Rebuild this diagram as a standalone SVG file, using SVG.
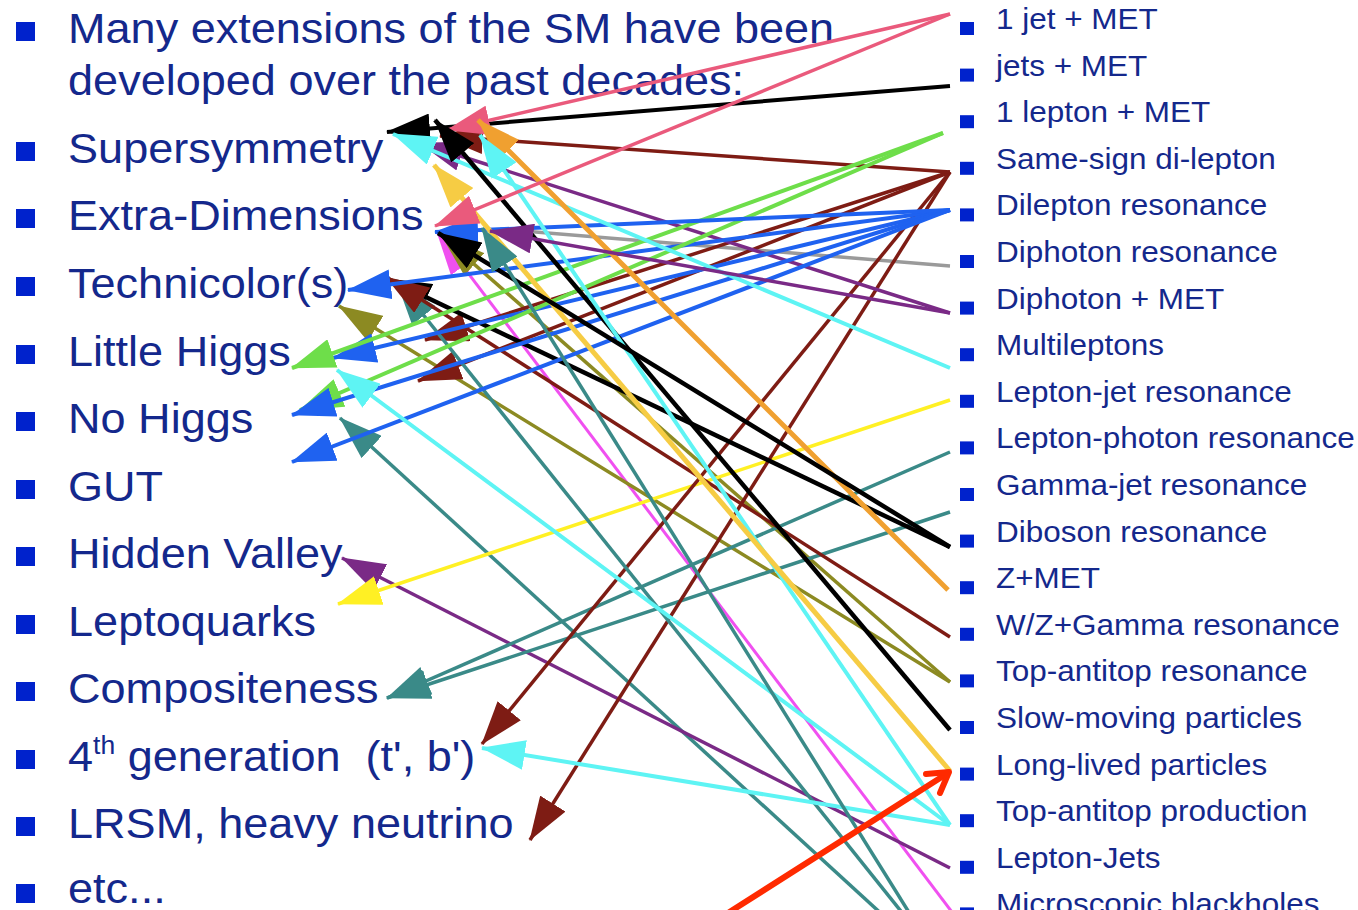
<svg xmlns="http://www.w3.org/2000/svg" width="1358" height="910" viewBox="0 0 1358 910">
<style>
.t{font-family:"Liberation Sans",Arial,sans-serif;fill:#14288c}
.L{font-size:42.5px}
.R{font-size:29.7px}
.b{fill:#0022cc}
.c{fill:none;stroke-linecap:butt}
</style>
<defs>
<marker id="h-pink" markerUnits="userSpaceOnUse" markerWidth="44" markerHeight="30" refX="43" refY="15" orient="auto" viewBox="0 0 44 30"><path d="M0,0L44,15L0,30z" fill="#ea5a7c"/></marker>
<marker id="h-black" markerUnits="userSpaceOnUse" markerWidth="44" markerHeight="30" refX="43" refY="15" orient="auto" viewBox="0 0 44 30"><path d="M0,0L44,15L0,30z" fill="#000"/></marker>
<marker id="h-dred" markerUnits="userSpaceOnUse" markerWidth="44" markerHeight="30" refX="43" refY="15" orient="auto" viewBox="0 0 44 30"><path d="M0,0L44,15L0,30z" fill="#7e1c14"/></marker>
<marker id="h-green" markerUnits="userSpaceOnUse" markerWidth="44" markerHeight="30" refX="43" refY="15" orient="auto" viewBox="0 0 44 30"><path d="M0,0L44,15L0,30z" fill="#6ede4a"/></marker>
<marker id="h-blue" markerUnits="userSpaceOnUse" markerWidth="44" markerHeight="30" refX="43" refY="15" orient="auto" viewBox="0 0 44 30"><path d="M0,0L44,15L0,30z" fill="#1f62f0"/></marker>
<marker id="h-purple" markerUnits="userSpaceOnUse" markerWidth="44" markerHeight="30" refX="43" refY="15" orient="auto" viewBox="0 0 44 30"><path d="M0,0L44,15L0,30z" fill="#7a2a86"/></marker>
<marker id="h-cyan" markerUnits="userSpaceOnUse" markerWidth="44" markerHeight="30" refX="43" refY="15" orient="auto" viewBox="0 0 44 30"><path d="M0,0L44,15L0,30z" fill="#5ef4f4"/></marker>
<marker id="h-orange" markerUnits="userSpaceOnUse" markerWidth="44" markerHeight="30" refX="43" refY="15" orient="auto" viewBox="0 0 44 30"><path d="M0,0L44,15L0,30z" fill="#f0a030"/></marker>
<marker id="h-gold" markerUnits="userSpaceOnUse" markerWidth="44" markerHeight="30" refX="43" refY="15" orient="auto" viewBox="0 0 44 30"><path d="M0,0L44,15L0,30z" fill="#f6cc44"/></marker>
<marker id="h-yellow" markerUnits="userSpaceOnUse" markerWidth="44" markerHeight="30" refX="43" refY="15" orient="auto" viewBox="0 0 44 30"><path d="M0,0L44,15L0,30z" fill="#fff024"/></marker>
<marker id="h-teal" markerUnits="userSpaceOnUse" markerWidth="44" markerHeight="30" refX="43" refY="15" orient="auto" viewBox="0 0 44 30"><path d="M0,0L44,15L0,30z" fill="#3a8a88"/></marker>
<marker id="h-olive" markerUnits="userSpaceOnUse" markerWidth="44" markerHeight="30" refX="43" refY="15" orient="auto" viewBox="0 0 44 30"><path d="M0,0L44,15L0,30z" fill="#8c8a22"/></marker>
<marker id="h-mag" markerUnits="userSpaceOnUse" markerWidth="44" markerHeight="30" refX="43" refY="15" orient="auto" viewBox="0 0 44 30"><path d="M0,0L44,15L0,30z" fill="#f050f0"/></marker>
</defs>
<rect width="1358" height="910" fill="#fff"/>

<g id="left-list">
<rect class="b" x="16" y="22" width="19" height="19"/>
<rect class="b" x="16" y="142" width="19" height="19"/>
<rect class="b" x="16" y="209" width="19" height="19"/>
<rect class="b" x="16" y="277" width="19" height="19"/>
<rect class="b" x="16" y="345" width="19" height="19"/>
<rect class="b" x="16" y="412" width="19" height="19"/>
<rect class="b" x="16" y="480" width="19" height="19"/>
<rect class="b" x="16" y="547" width="19" height="19"/>
<rect class="b" x="16" y="615" width="19" height="19"/>
<rect class="b" x="16" y="682" width="19" height="19"/>
<rect class="b" x="16" y="750" width="19" height="19"/>
<rect class="b" x="16" y="817" width="19" height="19"/>
<rect class="b" x="16" y="884" width="19" height="19"/>
<g transform="scale(1.06 1)" class="t L">
<text x="64.2" y="43">Many extensions of the SM have been</text>
<text x="64.2" y="95">developed over the past decades:</text>
<text id="n-susy" x="64.2" y="163">Supersymmetry</text>
<text id="n-xd" x="64.2" y="230">Extra-Dimensions</text>
<text id="n-tc" x="64.2" y="298">Technicolor(s)</text>
<text id="n-lh" x="64.2" y="366">Little Higgs</text>
<text id="n-nh" x="64.2" y="433">No Higgs</text>
<text id="n-gut" x="64.2" y="501">GUT</text>
<text id="n-hv" x="64.2" y="568">Hidden Valley</text>
<text id="n-lq" x="64.2" y="636">Leptoquarks</text>
<text id="n-comp" x="64.2" y="703">Compositeness</text>
<text id="n-4g" x="64.2" y="771">4<tspan font-size="25" dy="-17">th</tspan><tspan dy="17" xml:space="preserve"> generation  (t', b')</tspan></text>
<text id="n-lrsm" x="64.2" y="838">LRSM, heavy neutrino</text>
<text id="n-etc" x="64.2" y="903">etc...</text>
</g>
</g>

<g id="right-list">
<rect class="b" x="960" y="22" width="14" height="13"/>
<rect class="b" x="960" y="68.6" width="14" height="13"/>
<rect class="b" x="960" y="115.2" width="14" height="13"/>
<rect class="b" x="960" y="161.8" width="14" height="13"/>
<rect class="b" x="960" y="208.4" width="14" height="13"/>
<rect class="b" x="960" y="255" width="14" height="13"/>
<rect class="b" x="960" y="301.6" width="14" height="13"/>
<rect class="b" x="960" y="348.2" width="14" height="13"/>
<rect class="b" x="960" y="394.8" width="14" height="13"/>
<rect class="b" x="960" y="441.4" width="14" height="13"/>
<rect class="b" x="960" y="488" width="14" height="13"/>
<rect class="b" x="960" y="534.6" width="14" height="13"/>
<rect class="b" x="960" y="581.2" width="14" height="13"/>
<rect class="b" x="960" y="627.8" width="14" height="13"/>
<rect class="b" x="960" y="674.4" width="14" height="13"/>
<rect class="b" x="960" y="721" width="14" height="13"/>
<rect class="b" x="960" y="767.6" width="14" height="13"/>
<rect class="b" x="960" y="814.2" width="14" height="13"/>
<rect class="b" x="960" y="860.8" width="14" height="13"/>
<rect class="b" x="960" y="907.4" width="14" height="13"/>
<g transform="scale(1.06 1)" class="t R">
<text id="s-1jet" x="939.6" y="29">1 jet + MET</text>
<text id="s-jets" x="939.6" y="75.6">jets + MET</text>
<text id="s-1lep" x="939.6" y="122.2">1 lepton + MET</text>
<text id="s-ss" x="939.6" y="168.8">Same-sign di-lepton</text>
<text id="s-dilep" x="939.6" y="215.4">Dilepton resonance</text>
<text id="s-diph" x="939.6" y="262">Diphoton resonance</text>
<text id="s-diphmet" x="939.6" y="308.6">Diphoton + MET</text>
<text id="s-multi" x="939.6" y="355.2">Multileptons</text>
<text id="s-lj" x="939.6" y="401.8">Lepton-jet resonance</text>
<text id="s-lph" x="939.6" y="448.4">Lepton-photon resonance</text>
<text id="s-gj" x="939.6" y="495">Gamma-jet resonance</text>
<text id="s-dib" x="939.6" y="541.6">Diboson resonance</text>
<text id="s-zmet" x="939.6" y="588.2">Z+MET</text>
<text id="s-wz" x="939.6" y="634.8">W/Z+Gamma resonance</text>
<text id="s-ttr" x="939.6" y="681.4">Top-antitop resonance</text>
<text id="s-slow" x="939.6" y="728">Slow-moving particles</text>
<text id="s-long" x="939.6" y="774.6">Long-lived particles</text>
<text id="s-ttp" x="939.6" y="821.2">Top-antitop production</text>
<text id="s-lepjets" x="939.6" y="867.8">Lepton-Jets</text>
<text id="s-bh" x="939.6" y="914.4">Microscopic blackholes</text>
</g>
</g>

<g id="connectors" class="c">
<line x1="886" y1="918" x2="340" y2="418" stroke="#3a8a88" stroke-width="3.5" marker-end="url(#h-teal)"/>
<line x1="958" y1="920" x2="437" y2="232" stroke="#f050f0" stroke-width="3" marker-end="url(#h-mag)"/>
<line x1="950" y1="266" x2="500" y2="229" stroke="#9a9a9a" stroke-width="3.5"/>
<line x1="950" y1="682" x2="442" y2="236" stroke="#8c8a22" stroke-width="3.5" marker-end="url(#h-olive)"/>
<line x1="950" y1="682" x2="339" y2="306" stroke="#8c8a22" stroke-width="3.5" marker-end="url(#h-olive)"/>
<line x1="950" y1="868" x2="342" y2="558" stroke="#7a2a86" stroke-width="3.5" marker-end="url(#h-purple)"/>
<line x1="950" y1="400" x2="338" y2="604" stroke="#fff024" stroke-width="3.5" marker-end="url(#h-yellow)"/>
<line x1="950" y1="452" x2="387" y2="698" stroke="#3a8a88" stroke-width="3.5" marker-end="url(#h-teal)"/>
<line x1="950" y1="512" x2="387" y2="698" stroke="#3a8a88" stroke-width="3.5" marker-end="url(#h-teal)"/>
<line x1="950" y1="172" x2="482" y2="744" stroke="#7e1c14" stroke-width="3.5" marker-end="url(#h-dred)"/>
<line x1="950" y1="172" x2="530" y2="840" stroke="#7e1c14" stroke-width="3.5" marker-end="url(#h-dred)"/>
<line x1="950" y1="172" x2="425" y2="340" stroke="#7e1c14" stroke-width="3.5" marker-end="url(#h-dred)"/>
<line x1="950" y1="172" x2="418" y2="381" stroke="#7e1c14" stroke-width="3.5" marker-end="url(#h-dred)"/>
<line x1="950" y1="172" x2="440" y2="136" stroke="#7e1c14" stroke-width="3.5" marker-end="url(#h-dred)"/>
<line x1="950" y1="313" x2="420" y2="143" stroke="#7a2a86" stroke-width="3.5" marker-end="url(#h-purple)"/>
<line x1="950" y1="547" x2="388" y2="279" stroke="#000" stroke-width="4.5" marker-end="url(#h-black)"/>
<line x1="916" y1="930" x2="397" y2="282" stroke="#3a8a88" stroke-width="3.5" marker-end="url(#h-teal)"/>
<line x1="950" y1="637" x2="386" y2="277" stroke="#7e1c14" stroke-width="3.5" marker-end="url(#h-dred)"/>
<line x1="950" y1="210" x2="348" y2="290" stroke="#1f62f0" stroke-width="4" marker-end="url(#h-blue)"/>
<line x1="950" y1="210" x2="333" y2="358" stroke="#1f62f0" stroke-width="4" marker-end="url(#h-blue)"/>
<line x1="943" y1="133" x2="300" y2="410" stroke="#6ede4a" stroke-width="4" marker-end="url(#h-green)"/>
<line x1="950" y1="210" x2="292" y2="415" stroke="#1f62f0" stroke-width="4" marker-end="url(#h-blue)"/>
<line x1="950" y1="210" x2="292" y2="462" stroke="#1f62f0" stroke-width="4" marker-end="url(#h-blue)"/>
<line x1="943" y1="133" x2="292" y2="368" stroke="#6ede4a" stroke-width="4" marker-end="url(#h-green)"/>
<line x1="950" y1="210" x2="435" y2="232" stroke="#1f62f0" stroke-width="4" marker-end="url(#h-blue)"/>
<line x1="950" y1="825" x2="337" y2="370" stroke="#5ef4f4" stroke-width="4" marker-end="url(#h-cyan)"/>
<line x1="950" y1="825" x2="482" y2="748" stroke="#5ef4f4" stroke-width="4" marker-end="url(#h-cyan)"/>
<line x1="950" y1="86" x2="387" y2="132" stroke="#000" stroke-width="4" marker-end="url(#h-black)"/>
<line x1="950" y1="368" x2="393" y2="134" stroke="#5ef4f4" stroke-width="4" marker-end="url(#h-cyan)"/>
<line x1="950" y1="14" x2="447" y2="130" stroke="#ea5a7c" stroke-width="3.5" marker-end="url(#h-pink)"/>
<line x1="950" y1="730" x2="435" y2="120" stroke="#000" stroke-width="4.5" marker-end="url(#h-black)"/>
<line x1="948" y1="590" x2="478" y2="120" stroke="#f0a030" stroke-width="5" marker-end="url(#h-orange)"/>
<line x1="950" y1="825" x2="480" y2="135" stroke="#5ef4f4" stroke-width="4" marker-end="url(#h-cyan)"/>
<line x1="950" y1="771" x2="434" y2="165" stroke="#f6cc44" stroke-width="5" marker-end="url(#h-gold)"/>
<line x1="950" y1="14" x2="435" y2="226" stroke="#ea5a7c" stroke-width="3.5" marker-end="url(#h-pink)"/>
<line x1="950" y1="547" x2="438" y2="233" stroke="#000" stroke-width="4.5" marker-end="url(#h-black)"/>
<line x1="920" y1="930" x2="482" y2="228" stroke="#3a8a88" stroke-width="3.5" marker-end="url(#h-teal)"/>
<line x1="950" y1="313" x2="490" y2="231" stroke="#7a2a86" stroke-width="3.5" marker-end="url(#h-purple)"/>
<g stroke="#ff2a00" stroke-width="6" stroke-linecap="round" stroke-linejoin="round">
<line x1="728" y1="913" x2="948" y2="773"/>
<polyline points="926,774 949,772 940,793"/>
</g>
</g>
</svg>
